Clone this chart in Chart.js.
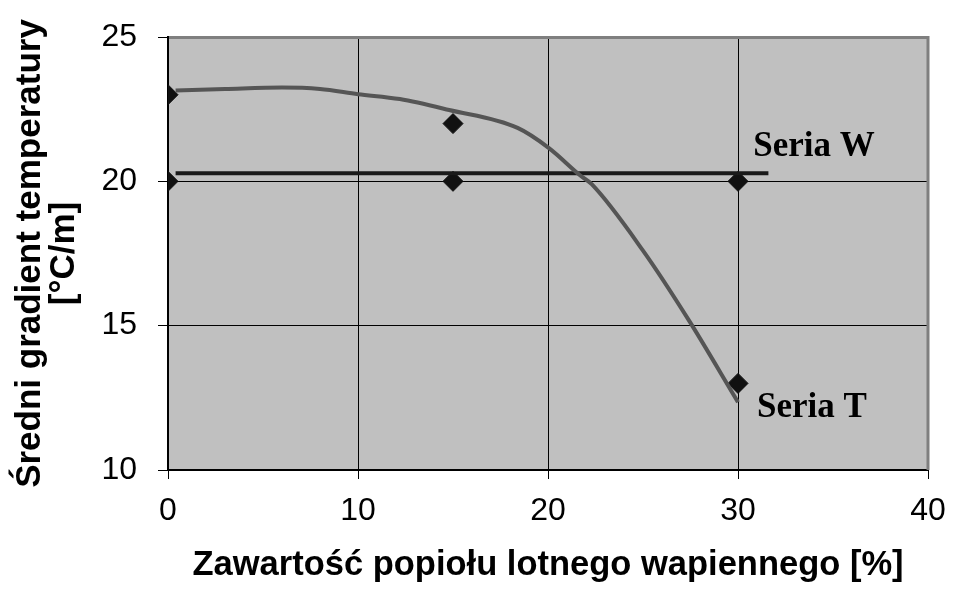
<!DOCTYPE html>
<html>
<head>
<meta charset="utf-8">
<script src="https://cdn.jsdelivr.net/npm/chart.js@4.4.1/dist/chart.umd.min.js"></script>
<style>
  html, body { margin: 0; padding: 0; background: #ffffff; }
  #wrap { width: 954px; height: 598px; }
</style>
</head>
<body>
<div id="wrap"><canvas id="chart"></canvas></div>
<script>
// measured points (diamonds)
const markerX = [0, 0, 15, 15, 30, 30];
const markerY = [23, 20, 22, 20, 20, 13];

// Seria W - horizontal average line
const wX = [0.4, 31.6];
const wY = [20.28, 20.28];

// Seria T - smoothed trend curve
const tX = [0.4, 3, 6, 8, 10, 12.2, 14.8, 18.4, 20.05, 21.7, 22.3, 25, 27.4, 30];
const tY = [23.15, 23.2, 23.25, 23.2, 23.02, 22.85, 22.47, 21.85, 21.15, 20.2, 19.9, 17.6, 15.2, 12.35];

// axes
const xTicks = [0, 10, 20, 30, 40];
const yTicks = [10, 15, 20, 25];

// series labels, anchored in data units
const seriesLabels = ["Seria W", "Seria T"];
const labelX = [30.8, 31.0];
const labelY = [21.2, 12.15];

const toPoints = (xs, ys) => xs.map((x, i) => ({ x: x, y: ys[i] }));

const plotBackground = {
  id: "plotBackground",
  beforeDraw(chart) {
    const { ctx, chartArea: a } = chart;
    ctx.save();
    ctx.fillStyle = "#c0c0c0";
    ctx.fillRect(a.left, a.top, a.right - a.left, a.bottom - a.top);
    ctx.restore();
  },
  beforeDatasetsDraw(chart) {
    // grey frame on top and right, like the original plot area
    const { ctx, chartArea: a } = chart;
    ctx.save();
    ctx.strokeStyle = "#7f7f7f";
    ctx.lineWidth = 3;
    ctx.beginPath();
    ctx.moveTo(a.left + 1, a.top + 0.5);
    ctx.lineTo(a.right, a.top + 0.5);
    ctx.lineTo(a.right, a.bottom);
    ctx.stroke();
    ctx.restore();
  },
};

const seriesText = {
  id: "seriesText",
  afterDatasetsDraw(chart) {
    const { ctx, scales } = chart;
    ctx.save();
    ctx.fillStyle = "#000";
    ctx.font = "bold 35px 'Liberation Serif', 'Times New Roman', serif";
    ctx.textAlign = "left";
    ctx.textBaseline = "middle";
    seriesLabels.forEach((txt, i) => {
      ctx.fillText(txt, scales.x.getPixelForValue(labelX[i]), scales.y.getPixelForValue(labelY[i]));
    });
    ctx.restore();
  },
};

const tickFont = { family: "'Liberation Sans', Arial, sans-serif", size: 32 };
const xTitleFont = { family: "'Liberation Sans', Arial, sans-serif", size: 34.5, weight: "bold", lineHeight: 1.0 };
const yTitleFont = { family: "'Liberation Sans', Arial, sans-serif", size: 35, weight: "bold", lineHeight: 0.97 };

// keep the plot area where the original has it
function noEdgePadding(s) {
  s.paddingTop = 0;
  s.paddingBottom = 0;
  s.paddingLeft = 0;
  s.paddingRight = 0;
}

new Chart(document.getElementById("chart"), {
  type: "scatter",
  data: {
    datasets: [
      {
        label: "Seria T",
        type: "line",
        data: toPoints(tX, tY),
        borderColor: "#555555",
        borderWidth: 4,
        pointRadius: 0,
        tension: 0.4,
        cubicInterpolationMode: "monotone",
        fill: false,
      },
      {
        label: "Seria W",
        type: "line",
        data: toPoints(wX, wY),
        borderColor: "#1a1a1a",
        borderWidth: 4,
        pointRadius: 0,
        fill: false,
      },
      {
        label: "Pomiary",
        data: toPoints(markerX, markerY),
        pointStyle: "rectRot",
        pointRadius: 10,
        backgroundColor: "#111111",
        borderColor: "#111111",
        borderWidth: 1,
      },
    ],
  },
  options: {
    responsive: true,
    maintainAspectRatio: false,
    animation: false,
    layout: { padding: { left: 0, right: 26, top: 37, bottom: 0 } },
    plugins: {
      legend: { display: false },
      tooltip: { enabled: false },
    },
    scales: {
      x: {
        type: "linear",
        min: 0,
        max: 40,
        afterBuildTicks: (s) => { s.ticks = xTicks.map(v => ({ value: v })); },
        afterFit: (s) => { s.height = 128; noEdgePadding(s); },
        ticks: { font: tickFont, color: "#000", padding: 13 },
        grid: { color: "#000", lineWidth: 1, tickLength: 9, tickColor: "#000" },
        border: { color: "#000", width: 2 },
        title: {
          display: true,
          text: "Zawartość popiołu lotnego wapiennego [%]",
          font: xTitleFont,
          color: "#000",
          padding: { top: 0, bottom: 15 },
        },
      },
      y: {
        type: "linear",
        min: 10,
        max: 25,
        afterBuildTicks: (s) => { s.ticks = yTicks.map(v => ({ value: v })); },
        afterFit: (s) => { s.width = 168; noEdgePadding(s); },
        ticks: { font: tickFont, color: "#000", padding: 21 },
        grid: { color: "#000", lineWidth: 1, tickLength: 10, tickColor: "#000" },
        border: { color: "#000", width: 2 },
        title: {
          display: true,
          text: ["Średni gradient temperatury", "[°C/m]"],
          font: yTitleFont,
          color: "#000",
          padding: { top: 13, bottom: 0 },
        },
      },
    },
  },
  plugins: [plotBackground, seriesText],
});
</script>
</body>
</html>
